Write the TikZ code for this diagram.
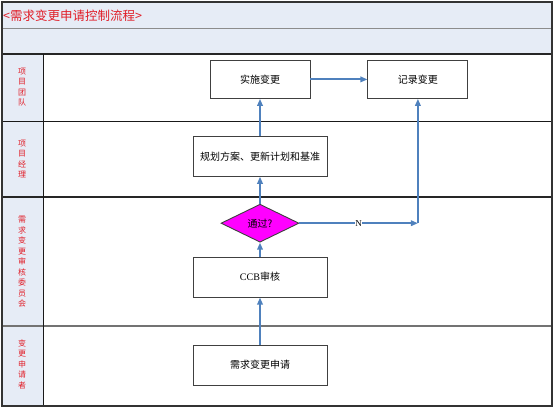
\documentclass[tikz,border=0pt]{standalone}
\usepackage{fontspec}
\setmainfont{Liberation Serif}
\newfontfamily\cjk{Noto Sans CJK SC}
\usetikzlibrary{positioning, arrows.meta, shapes.geometric}
\definecolor{bandblue}{RGB}{230,236,246}
\definecolor{flowblue}{RGB}{79,129,189}
\definecolor{labelred}{RGB}{225,30,40}
\definecolor{passpink}{RGB}{255,0,255}

\begin{document}
\begin{tikzpicture}[
  x=1pt, y=-1pt,
  font=\cjk\fontsize{10}{12}\selectfont,
  % Estilos de bloques
  box/.style={draw=black!75, rectangle, line width=0.9pt, minimum width=134pt, minimum height=40pt, fill=white, inner sep=2pt},
  smallbox/.style={box, minimum width=100pt, minimum height=38pt},
  decision/.style={draw=black!75, diamond, line width=0.9pt, fill=passpink, minimum width=78pt, minimum height=38pt, inner sep=0pt},
  lanelabel/.style={text=labelred, align=center, font=\cjk\fontsize{8}{10.5}\selectfont},
  % Estilos de flechas
  line/.style={draw=flowblue, line width=1.8pt, -{Triangle[length=7pt, width=5.5pt]}},
  sepline/.style={line width=1.4pt, black!85}
]
  \useasboundingbox (0,0) rectangle (556,409);

  % ==========================================
  % FONDO Y CARRILES
  % ==========================================
  \fill[bandblue] (2,2) rectangle (552,54);
  \fill[bandblue] (2,54) rectangle (43,406);
  \draw[line width=1pt, black!45] (2,29) -- (552,29);
  \draw[sepline] (2,54) -- (552,54);
  \draw[line width=1pt, black!90] (2,121) -- (552,121);
  \draw[sepline] (2,197) -- (552,197);
  \draw[line width=1.4pt, black!55] (2,326) -- (552,326);
  \draw[line width=1pt, black!90] (43,54) -- (43,406);
  \draw[line width=1.4pt, black!80] (2,2) rectangle (552,406);

  \node[anchor=west, text=labelred, inner sep=0pt, font=\cjk\fontsize{12.5}{14}\selectfont] (title) at (3,16) {<需求变更申请控制流程>};

  \node[lanelabel] (team) at (22,87) {项\\目\\团\\队};
  \node[lanelabel] (pm) at (22,159) {项\\目\\经\\理};
  \node[lanelabel] (ccbboard) at (22,262) {需\\求\\变\\更\\审\\核\\委\\员\\会};
  \node[lanelabel] (applicant) at (22,364) {变\\更\\申\\请\\者};

  % ==========================================
  % NODOS DEL FLUJO
  % ==========================================
  \node[box] (request) at (260,365) {需求变更申请};
  \node[box, above=47pt of request] (review) {{\rmfamily CCB}审核};
  \node[decision, above=14pt of review] (pass) {通过?};
  \node[box, above=27pt of pass] (plan) {规划方案、更新计划和基准};
  \node[smallbox, above=37pt of plan] (apply) {实施变更};
  \node[smallbox, right=57pt of apply] (record) {记录变更};

  % ==========================================
  % CONEXIONES
  % ==========================================
  \draw[line] (request) -- (review);
  \draw[line] (review) -- (pass);
  \draw[line] (pass) -- (plan);
  \draw[line] (plan) -- (apply);
  \draw[line] (apply) -- (record);

  \coordinate (turn) at (record.south |- pass.east);
  \draw[line] (pass.east) -- node[pos=0.5, fill=white, inner sep=0.5pt, font=\rmfamily\fontsize{9}{10}\selectfont] {N} (turn);
  \draw[line] (turn) -- (record.south);

\end{tikzpicture}
\end{document}
